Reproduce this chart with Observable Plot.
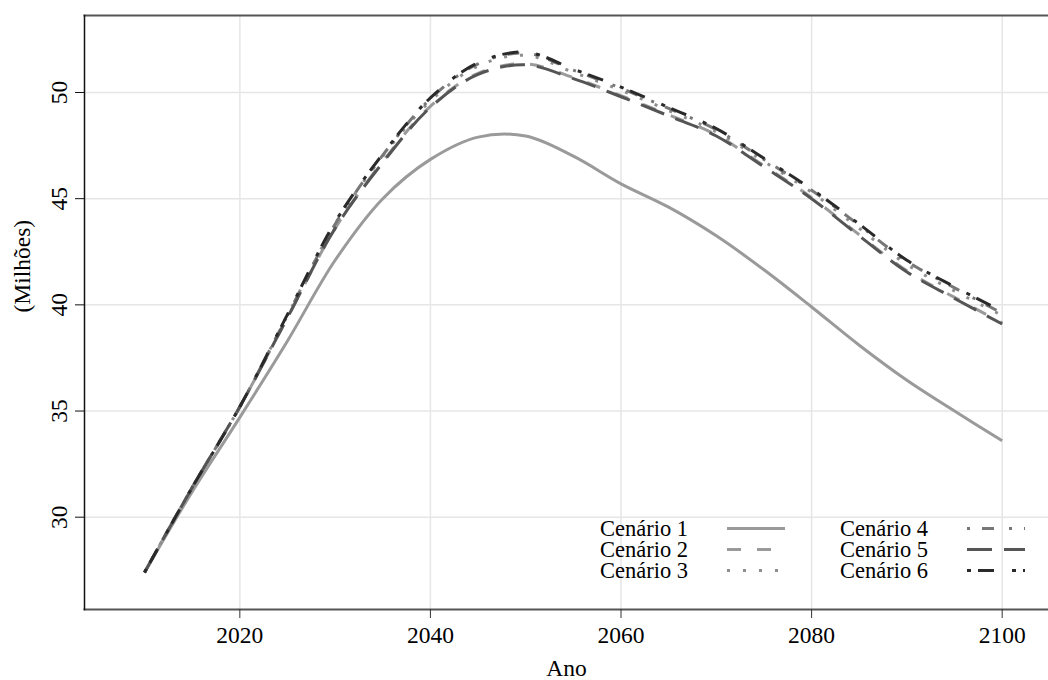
<!DOCTYPE html>
<html>
<head>
<meta charset="utf-8">
<script src="https://cdn.jsdelivr.net/npm/d3@7"></script>
<script src="https://cdn.jsdelivr.net/npm/@observablehq/plot@0.6"></script>
<style>
  body { margin: 0; background: #fff; }
  #chart { position: relative; width: 1048px; height: 680px; font-family: "Liberation Serif", "Times New Roman", serif; }
  #chart svg { display: block; }
  .legend { position: absolute; left: 0; top: 0; font-size: 22.5px; line-height: 21px; color: #000; }
  .legend .item { position: absolute; white-space: nowrap; height: 21px; display: flex; align-items: center; }
  .legend .item span { display: inline-block; width: 127px; }
</style>
</head>
<body>
<div id="chart"></div>
<script>
// Projected population (millions) by year for six scenarios
const anos = [2010, 2015, 2020, 2025, 2030, 2035, 2040, 2045, 2050, 2055, 2060, 2065, 2070, 2075, 2080, 2085, 2090, 2095, 2100];
const cenario1 = [27.4, 31.2, 34.7, 38.3, 42.1, 45.0, 46.85, 47.9, 47.95, 47.0, 45.7, 44.6, 43.25, 41.65, 39.9, 38.1, 36.45, 35.0, 33.6];
const cenario2 = [27.4, 31.4, 35.2, 39.4, 43.6, 46.75, 49.35, 50.9, 51.35, 50.7, 49.85, 48.95, 48.0, 46.55, 45.05, 43.3, 41.6, 40.35, 39.15];
const cenario3 = [27.4, 31.4, 35.2, 39.5, 43.8, 47.0, 49.6, 51.25, 51.75, 50.95, 50.1, 49.15, 48.15, 46.75, 45.3, 43.6, 41.9, 40.65, 39.5];
const cenario4 = [27.4, 31.4, 35.2, 39.5, 43.8, 47.05, 49.7, 51.35, 51.85, 51.05, 50.2, 49.25, 48.25, 46.85, 45.4, 43.75, 42.05, 40.8, 39.6];
const cenario5 = [27.4, 31.4, 35.2, 39.4, 43.6, 46.7, 49.3, 50.85, 51.3, 50.65, 49.8, 48.9, 47.95, 46.5, 45.0, 43.25, 41.55, 40.3, 39.1];
const cenario6 = [27.4, 31.4, 35.2, 39.55, 43.9, 47.1, 49.75, 51.4, 51.9, 51.1, 50.25, 49.3, 48.3, 46.9, 45.45, 43.8, 42.1, 40.85, 39.7];

const cenarios = ["Cenário 1", "Cenário 2", "Cenário 3", "Cenário 4", "Cenário 5", "Cenário 6"];
const valores = [cenario1, cenario2, cenario3, cenario4, cenario5, cenario6];

const xTicks = [2020, 2040, 2060, 2080, 2100];
const yTicks = [30, 35, 40, 45, 50];

// Line appearance per scenario
const cores = ["#9a9a9a", "#9a9a9a", "#8e8e8e", "#777777", "#555555", "#2a2a2a"];
const tracos = ["none", "14,16", "3,13", "3,12,12,15", "25,12", "4,7,16,18"];

const linhas = cenarios.flatMap((nome, i) =>
  anos.map((ano, j) => ({cenario: nome, ano, valor: valores[i][j]}))
);

const fonte = 23.5;

const chart = Plot.plot({
  width: 1048,
  height: 680,
  marginLeft: 84,
  marginRight: 0,
  marginTop: 15,
  marginBottom: 71,
  x: {domain: [2003.7, 2104.86]},
  y: {domain: [25.653, 53.626]},
  style: {fontFamily: "Liberation Serif, Times New Roman, serif", fontSize: fonte + "px", color: "#000", background: "#fff", overflow: "visible"},
  marks: [
    Plot.gridX(xTicks, {stroke: "#e6e6e6", strokeOpacity: 1, strokeWidth: 1.5}),
    Plot.gridY(yTicks, {stroke: "#e6e6e6", strokeOpacity: 1, strokeWidth: 1.5}),
    ...cenarios.map((nome, i) =>
      Plot.line(linhas.filter((d) => d.cenario === nome), {
        x: "ano",
        y: "valor",
        stroke: cores[i],
        strokeWidth: 3,
        strokeDasharray: tracos[i],
        strokeLinecap: "butt",
        curve: "catmull-rom"
      })
    ),
    Plot.frame({anchor: "top", stroke: "#555", strokeWidth: 2}),
    Plot.frame({anchor: "bottom", stroke: "#555", strokeWidth: 2}),
    Plot.frame({anchor: "left", stroke: "#111", strokeWidth: 1.5}),
    Plot.axisX(xTicks, {tickSize: 9, tickPadding: 8, tickFormat: (d) => String(d), label: null, stroke: "#333", fontSize: fonte}),
    Plot.axisY(yTicks, {tickSize: 9, tickPadding: 9, tickRotate: -90, label: null, stroke: "#111", fontSize: fonte}),
    Plot.text(["Ano"], {text: (d) => d, frameAnchor: "bottom", dy: 66, fontSize: fonte}),
    Plot.text(["(Milhões)"], {text: (d) => d, frameAnchor: "left", dx: -62, rotate: -90, fontSize: fonte})
  ]
});

const root = document.getElementById("chart");
root.appendChild(chart);

// Legend inside the panel, two columns of three entries
const legend = document.createElement("div");
legend.className = "legend";
root.appendChild(legend);
const colX = [600, 840];
const rowY = [518, 539, 560];
cenarios.forEach((nome, i) => {
  const col = Math.floor(i / 3), row = i % 3;
  const item = document.createElement("div");
  item.className = "item";
  item.style.left = colX[col] + "px";
  item.style.top = rowY[row] + "px";
  const label = document.createElement("span");
  label.textContent = nome;
  item.appendChild(label);
  const svg = d3.create("svg").attr("width", 58).attr("height", 21);
  svg.append("line")
    .attr("x1", 0).attr("x2", 58).attr("y1", 10.5).attr("y2", 10.5)
    .attr("stroke", cores[i]).attr("stroke-width", 3)
    .attr("stroke-dasharray", tracos[i]).attr("stroke-linecap", "butt");
  item.appendChild(svg.node());
  legend.appendChild(item);
});
</script>
</body>
</html>
